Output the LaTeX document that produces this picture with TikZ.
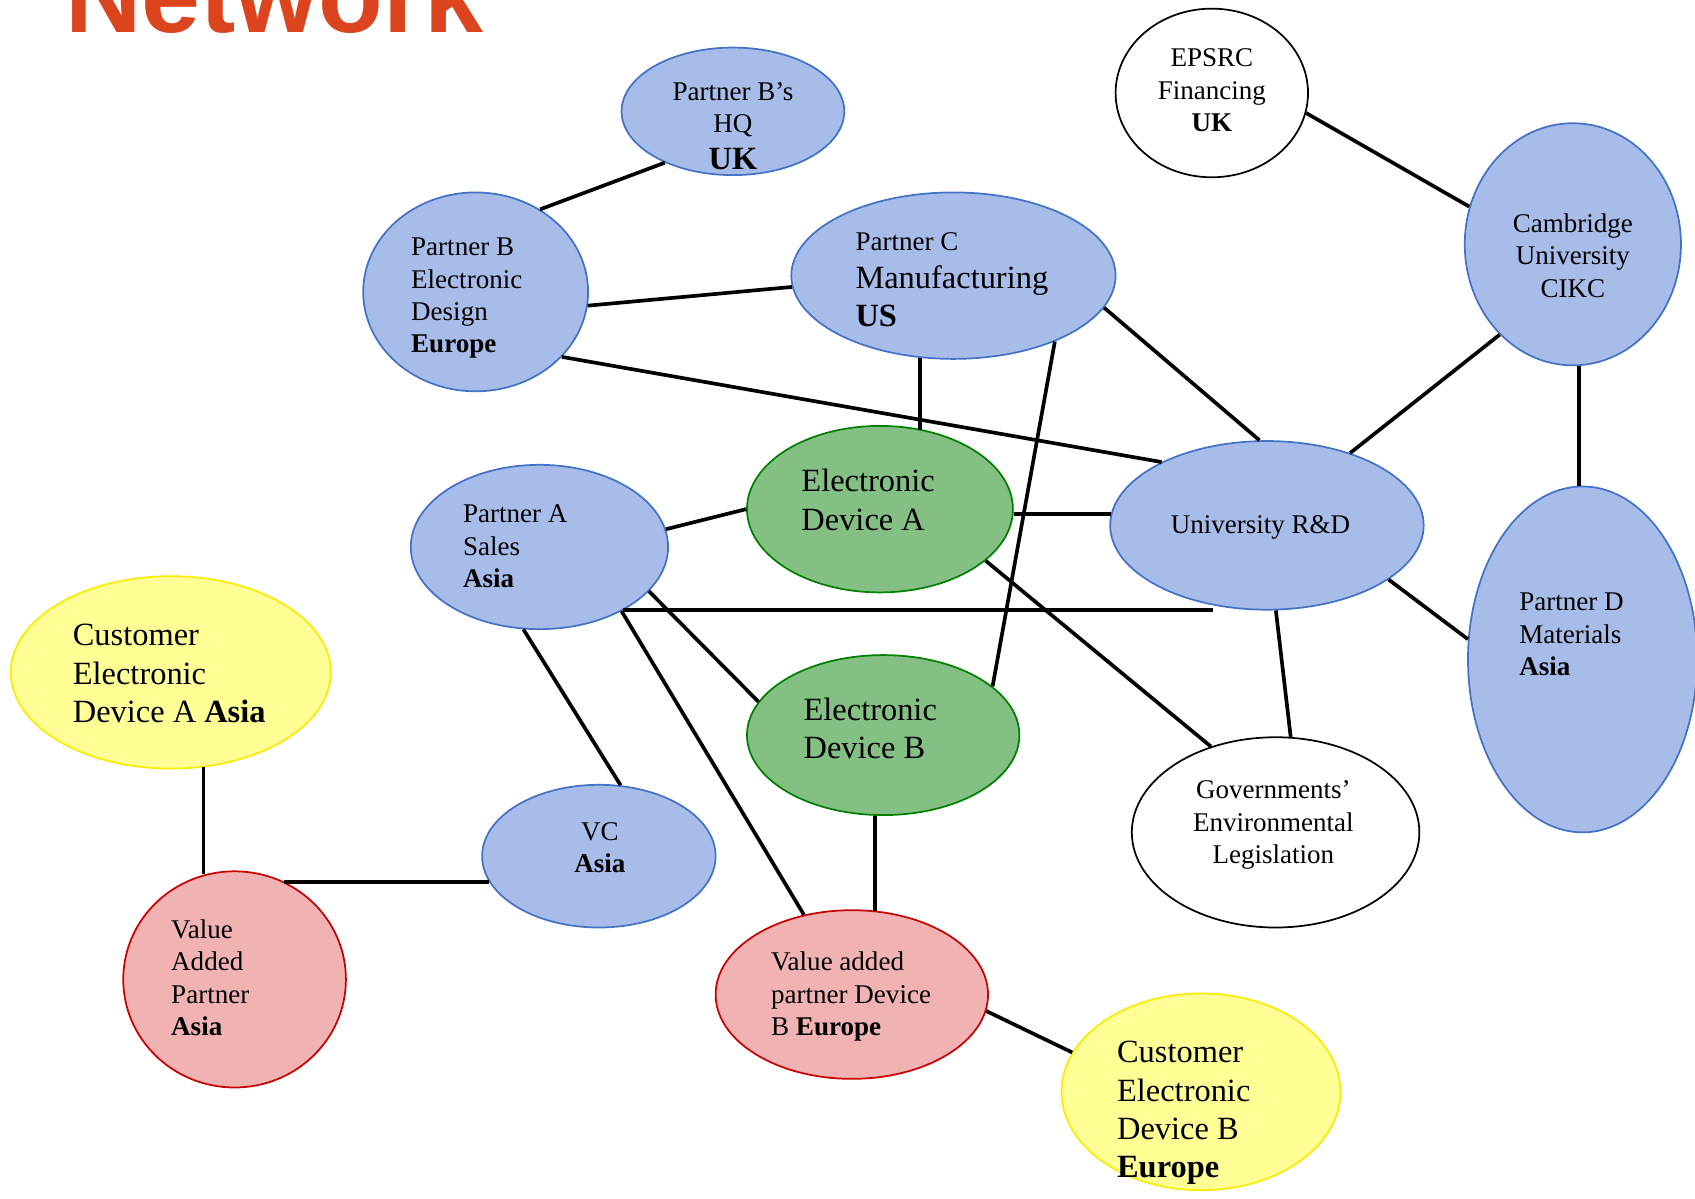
\documentclass[tikz,border=0pt]{standalone}
\usepackage{fontspec}
\setmainfont{Liberation Serif}
\newfontfamily\titlefont{Liberation Sans}
\usetikzlibrary{shapes.geometric}
\definecolor{bfill}{RGB}{168,188,234}
\definecolor{bline}{RGB}{68,114,196}
\definecolor{gfill}{RGB}{132,192,132}
\definecolor{gline}{RGB}{0,128,0}
\definecolor{yfill}{RGB}{255,255,150}
\definecolor{yline}{RGB}{250,235,0}
\definecolor{rfill}{RGB}{240,178,178}
\definecolor{rline}{RGB}{200,0,0}
\definecolor{titlecol}{RGB}{220,68,30}
\tikzset{
  ell/.style={ellipse, inner sep=0pt, line width=0.8pt},
  bnode/.style={ell, draw=bline, fill=bfill},
  gnode/.style={ell, draw=gline, fill=gfill},
  ynode/.style={ell, draw=yline, fill=yfill},
  rnode/.style={ell, draw=rline, fill=rfill},
  wnode/.style={ell, draw=black, fill=white},
  conn/.style={line width=1.7pt, black},
  txt/.style={inner sep=0pt, font=\fontsize{12.5}{15}\selectfont},
  btxt/.style={inner sep=0pt, font=\fontsize{15}{17.7}\selectfont},
}
\begin{document}
\begin{tikzpicture}[x=0.5pt, y=-0.5pt]
\useasboundingbox (0,0) rectangle (1568,1109);
\clip (0,0) rectangle (1568,1109);
\fill[white] (0,0) rectangle (1568,1109);
% title
\node[inner sep=0pt, anchor=base west, text=titlecol, font=\titlefont\bfseries\fontsize{49}{58}\selectfont] (title) at (60,30) {Network};
% ellipses
\node[bnode, minimum width=103pt, minimum height=59pt] (hq) at (678,103) {};
\node[wnode, minimum width=89pt, minimum height=78pt] (ep) at (1121,86) {};
\node[bnode, minimum width=104pt, minimum height=92pt] (pb) at (440,270) {};
\node[bnode, minimum width=150pt, minimum height=77pt] (pc) at (882,255) {};
\node[bnode, minimum width=100pt, minimum height=112pt] (cam) at (1455,226) {};
\node[gnode, minimum width=123pt, minimum height=77pt] (da) at (814,471) {};
\node[bnode, minimum width=119pt, minimum height=76pt] (pa) at (499,506) {};
\node[bnode, minimum width=145pt, minimum height=78pt] (urd) at (1172,486) {};
\node[bnode, minimum width=106pt, minimum height=160pt] (pd) at (1464,610) {};
\node[ynode, minimum width=148pt, minimum height=89pt] (ca) at (158,622) {};
\node[gnode, minimum width=126pt, minimum height=74pt] (db) at (817,680) {};
\node[wnode, minimum width=133pt, minimum height=88pt] (gov) at (1180,770) {};
\node[bnode, minimum width=108pt, minimum height=66pt] (vc) at (554,792) {};
\node[rnode, minimum width=103pt, minimum height=100pt] (vap) at (217,906) {};
\node[rnode, minimum width=126pt, minimum height=78pt] (vab) at (788,920) {};
\node[ynode, minimum width=129pt, minimum height=91pt] (cb) at (1111,1010) {};
% connectors
\draw[conn] (hq.217.6) -- (pb.52.4);
\draw[conn] (pb.353.4) -- (pc.184.3);
\draw[conn] (pb.323.3) -- (urd.149.7);
\draw[conn] (pc.248.7) -- (pc.248.7 |- da.61.3);
\draw[conn] (pc.327.7) -- (db.24.2);
\draw[conn] (pc.348.4) -- (urd.95.6);
\draw[conn] (ep.348.6) -- (cam.160.7);
\draw[conn] (cam.231.7) -- (urd.41.3);
\draw[conn] (cam.273.5) -- (cam.273.5 |- pd.92.3);
\draw[conn] (pa.8.1) -- (da.180.9);
\draw[conn] (da.358.6) -- (da.358.6 -| urd.175.2);
\draw[conn] (da.334.8) -- (gov.127.9);
\draw[conn] (pa.323) -- (pa.323 -| urd.236);
\draw[conn] (pa.338.2) -- (db.165.4);
\draw[conn] (pa.322) -- (vab.121.5);
\draw[conn] (pa.259) -- (vc.73.9);
\draw[conn] (urd.276.5) -- (gov.81.1);
\draw[conn] (urd.336.6) -- (pd.170.7);
\draw[conn] (db.264.7) -- (db.264.7 |- vab.73.7);
\draw[conn] (vab.353.2) -- (cb.163.7);
\draw[conn] (ca.289) -- (ca.289 |- vap.106.9);
\draw[conn] (vap.63.7) -- (vap.63.7 -| vc.193.1);
% texts
\node[txt, align=center] (hqt) at (678,101.5) {Partner B’s\\HQ};
\node[btxt] (hqu) at (678,147) {\textbf{UK}};
\node[txt, align=center] (ept) at (1121,83.5) {EPSRC\\Financing\\\textbf{UK}};
\node[txt, align=left, anchor=west] (pbt) at (380,276) {Partner B\\Electronic\\Design\\\textbf{Europe}};
\node[txt, anchor=west] (pct1) at (791,224) {Partner C};
\node[btxt, align=left, anchor=west] (pct2) at (791,274) {Manufacturing\\\textbf{US}};
\node[txt, align=center] (camt) at (1455,236.5) {Cambridge\\University\\CIKC};
\node[txt] (urdt) at (1166,488) {University R\&D};
\node[txt, align=left, anchor=west] (pat) at (428,505.5) {Partner A\\Sales\\\textbf{Asia}};
\node[txt, align=left, anchor=west] (pdt) at (1405,587) {Partner D\\Materials\\\textbf{Asia}};
\node[btxt, align=left, anchor=west] (dat) at (741,462.5) {Electronic\\Device A};
\node[btxt, align=left, anchor=west] (dbt) at (743,673.5) {Electronic\\Device B};
\node[btxt, align=left, anchor=west] (cat) at (67,623) {Customer\\Electronic\\Device A \textbf{Asia}};
\node[txt, align=center] (govt) at (1178,763.5) {Governments’\\Environmental\\Legislation};
\node[txt, align=center] (vct) at (555,784) {VC\\\textbf{Asia}};
\node[txt, align=left, anchor=west] (vapt) at (158,904.5) {Value\\Added\\Partner\\\textbf{Asia}};
\node[txt, align=left, anchor=west] (vabt) at (713,922) {Value added\\partner Device\\B \textbf{Europe}};
\node[btxt, align=left, anchor=west] (cbt) at (1033,1029.5) {Customer\\Electronic\\Device B\\\textbf{Europe}};
\end{tikzpicture}
\end{document}
